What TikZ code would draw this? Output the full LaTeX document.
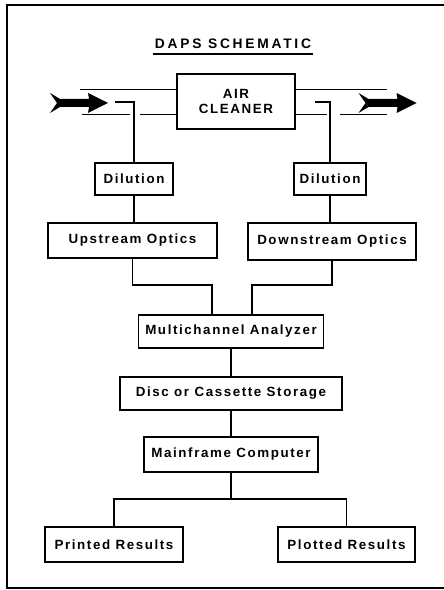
\documentclass[tikz,border=0pt]{standalone}
\usepackage{fontspec}
\newfontfamily\dapsfont[LetterSpace=12]{Liberation Sans}
\newfontfamily\dapstitlefont[LetterSpace=20]{Liberation Sans}
\usetikzlibrary{positioning}

\begin{document}
\begin{tikzpicture}[
      x=0.025cm, y=-0.025cm,
      box/.style={draw, line width=1.2pt, inner sep=0pt, align=center,
                  font=\dapsfont\bfseries\fontsize{9.5}{11}\selectfont},
      link/.style={line width=1pt},
      duct/.style={line width=0.6pt},
      frame/.style={line width=1.6pt},
      heading/.style={inner sep=1pt,
                  font=\dapstitlefont\bfseries\fontsize{9.8}{11}\selectfont},
      flowarrow/.pic={\fill (-29,-10) -- (-19,-4) -- (10,-4) -- (9,-10)
                  -- (29,0) -- (9,10) -- (10,4) -- (-19,4) -- (-29,10)
                  -- (-22,0) -- cycle;},
    ]
    \useasboundingbox (0,0) rectangle (444,590);

    % Frame, open on the right
    \draw[frame] (444,5) -- (7,5) -- (7,588) -- (444,588);

    % Title
    \node[heading] (title) at (233,44) {DAPS SCHEMATIC};
    \draw[link] ([yshift=-2.5pt]title.south west)
      -- ([yshift=-2.5pt]title.south east);

    % Boxes
    \foreach \name/\x/\y/\w/\h/\txt in {
        air/236/101.5/118/55/{AIR\\CLEANER},
        dilL/134/179/78/32/Dilution, dilR/330/179/72/32/Dilution,
        up/132.5/240.5/169/35/Upstream Optics,
        down/332/241.5/168/37/Downstream Optics,
        mca/231/331.5/185/33/Multichannel Analyzer,
        disc/231/393.5/222/33/Disc or Cassette Storage,
        main/231/454.5/174/35/Mainframe Computer,
        printed/114/544.5/138/35/Printed Results,
        plotted/346.5/544.5/137/35/Plotted Results}
      \node[box, minimum width=\w*0.025cm, minimum height=\h*0.025cm]
        (\name) at (\x,\y) {\txt};

    % Duct through the air cleaner
    \coordinate (ductUL) at (80,89);
    \coordinate (ductUR) at (387,89);
    \coordinate (ductLL) at (82,114);
    \coordinate (gapLa) at (130,114);
    \coordinate (gapLb) at (140,114);
    \coordinate (gapRa) at (327,114);
    \coordinate (gapRb) at (340,114);
    \coordinate (ductLR) at (387,114);
    \draw[duct] (ductUL) -- (ductUL -| air.west);
    \draw[duct] (ductUR -| air.east) -- (ductUR);
    \draw[duct] (ductLL) -- (gapLa);
    \draw[duct] (gapLb) -- (gapLb -| air.west);
    \draw[duct] (gapRa -| air.east) -- (gapRa);
    \draw[duct] (gapRb) -- (ductLR);

    % Flow arrows
    \pic at (79,103) {flowarrow};
    \pic at (387.5,103) {flowarrow};

    % Sample probes
    \coordinate (probeL) at (115,102);
    \coordinate (probeR) at (315,102);
    \draw[link] (probeL) -| (dilL.north);
    \draw[link] (probeR) -| (dilR.north);

    % Optics
    \draw[link] (dilL.south) -- (dilL.south |- up.north);
    \draw[link] (dilR.south) -- (dilR.south |- down.north);
    \coordinate (joinL) at (212,285);
    \coordinate (joinR) at (252,285);
    \draw[link] (up.south) |- (joinL) -- (joinL |- mca.north);
    \draw[link] (down.south) |- (joinR) -- (joinR |- mca.north);

    % Data path
    \draw[link] (mca.south) -- (mca.south |- disc.north);
    \draw[link] (disc.south) -- (disc.south |- main.north);
    \coordinate (split) at (231,499);
    \draw[link] (main.south) -- (split);
    \draw[link] (printed.north) |- (split) -| (plotted.north);
  \end{tikzpicture}
\end{document}
